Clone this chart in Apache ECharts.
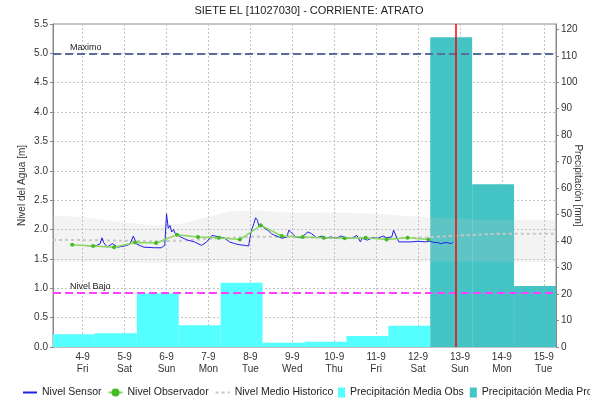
<!DOCTYPE html>
<html>
<head>
<meta charset="utf-8">
<script src="https://cdn.jsdelivr.net/npm/echarts@6/dist/echarts.min.js"></script>
<style>
  html, body { margin: 0; padding: 0; background: #fff; }
  #main { width: 590px; height: 401px; }
</style>
</head>
<body>
<div id="main"></div>
<script>
// horas contadas desde 2020-09-04 00:00
var sensorHours = [1, 6, 8, 10, 11, 12, 14, 17, 20, 24, 27, 29, 31, 35, 41, 45, 47, 48, 49, 50, 51, 52, 53, 54, 56, 60, 64, 68, 71, 74, 75, 78, 81, 84, 87, 90, 93, 95, 96, 97, 98, 99, 100, 101, 102, 104, 106, 108, 110, 112, 114, 117, 118, 120, 122, 125, 129, 131, 134, 137, 139, 142, 145, 148, 151, 154, 157, 159, 160, 163, 166, 169, 172, 174, 177, 178, 180, 181, 184, 188, 192, 196, 199, 201, 203, 205, 208, 211, 212];
var sensorLevel = [1.73, 1.72, 1.73, 1.76, 1.86, 1.78, 1.70, 1.76, 1.70, 1.72, 1.75, 1.89, 1.75, 1.70, 1.69, 1.69, 1.73, 2.27, 2.02, 2.07, 1.96, 2.00, 1.93, 1.91, 1.875, 1.82, 1.79, 1.73, 1.79, 1.90, 1.93, 1.875, 1.86, 1.79, 1.76, 1.74, 1.73, 1.72, 1.90, 2.02, 2.10, 2.20, 2.16, 2.05, 2.10, 2.02, 1.99, 1.93, 1.90, 1.88, 1.85, 1.875, 1.99, 1.93, 1.875, 1.86, 1.96, 1.93, 1.86, 1.89, 1.85, 1.875, 1.85, 1.89, 1.85, 1.85, 1.90, 1.79, 1.85, 1.82, 1.86, 1.85, 1.89, 1.86, 1.875, 1.99, 1.85, 1.79, 1.79, 1.79, 1.80, 1.79, 1.80, 1.78, 1.78, 1.76, 1.78, 1.76, 1.79];

var obsHours = [-6, 6, 18, 30, 42, 54, 66, 78, 90, 102, 114, 126, 138, 150, 162, 174, 186, 198];
var obsLevel = [1.74, 1.72, 1.70, 1.78, 1.77, 1.91, 1.875, 1.86, 1.83, 2.07, 1.89, 1.875, 1.86, 1.85, 1.86, 1.83, 1.86, 1.83];

var histHours = [-17, 0, 24, 40, 56, 72, 84, 100, 120, 144, 168, 192, 216, 240, 271];
var histHigh = [2.24, 2.21, 2.12, 2.07, 2.10, 2.22, 2.31, 2.33, 2.28, 2.29, 2.27, 2.22, 2.18, 2.16, 2.17];
var histLow = [1.45, 1.45, 1.44, 1.43, 1.43, 1.43, 1.44, 1.45, 1.45, 1.44, 1.44, 1.45, 1.46, 1.45, 1.44];
var histMean = [1.82, 1.82, 1.81, 1.80, 1.81, 1.84, 1.86, 1.88, 1.87, 1.86, 1.86, 1.86, 1.90, 1.93, 1.93];

// precipitacion diaria 7:00 a 7:00
var obsPrecipStart = -17;
var obsPrecip = [4.8, 5.2, 20.3, 8.2, 24.3, 1.6, 2.0, 4.2, 8.0];
var proPrecipStart = 199;
var proPrecip = [117, 61.5, 23.0];

var weekDays = ['Sun', 'Mon', 'Tue', 'Wed', 'Thu', 'Fri', 'Sat'];
var nivelMaximo = 5.0;
var nivelBajo = 0.93;
var horaActual = 213.5;
var xMinHour = -17;
var xMaxHour = 271;

var base = new Date(2020, 8, 4, 0, 0, 0).getTime();
function t(h) {
    return base + h * 3600 * 1000;
}

function pairs(hours, vals) {
    var out = [];
    for (var i = 0; i < hours.length; i++) {
        out.push([t(hours[i]), vals[i]]);
    }
    return out;
}

function precipData(start, vals) {
    var out = [];
    for (var i = 0; i < vals.length; i++) {
        out.push([t(start + 24 * i), t(start + 24 * (i + 1)), vals[i]]);
    }
    return out;
}

function precipRender(color) {
    return function (params, api) {
        var p0 = api.coord([api.value(0), api.value(2)]);
        var p1 = api.coord([api.value(1), 0]);
        return {
            type: 'rect',
            shape: {x: p0[0], y: p0[1], width: p1[0] - p0[0], height: p1[1] - p0[1]},
            style: {fill: color}
        };
    };
}

var bandRange = [];
for (var i = 0; i < histHigh.length; i++) {
    bandRange.push(+(histHigh[i] - histLow[i]).toFixed(3));
}

var myChart = echarts.init(document.getElementById('main'));
var fontFam = 'Liberation Sans, Arial, sans-serif';

var option = {
    animation: false,
    textStyle: {fontFamily: fontFam},
    title: {
        text: 'SIETE EL [11027030] - CORRIENTE: ATRATO',
        left: 304,
        textAlign: 'center',
        top: 0,
        textStyle: {fontSize: 11, fontWeight: 'normal', color: '#222', fontFamily: fontFam}
    },
    legend: [
        {
            left: 22,
            top: 387,
            padding: 0,
            width: 400,
            itemWidth: 14,
            itemHeight: 10,
            itemGap: 6,
            textStyle: {fontSize: 10.5, color: '#222'},
            data: [
                {name: 'Nivel Sensor', itemStyle: {opacity: 0}},
                {name: 'Nivel Observador'},
                {name: 'Nivel Medio Historico', itemStyle: {opacity: 0}}
            ]
        },
        {
            left: 338,
            top: 387,
            padding: 0,
            width: 500,
            itemWidth: 7,
            itemHeight: 10,
            itemGap: 6,
            textStyle: {fontSize: 10.5, color: '#222'},
            data: [
                {name: 'Precipitación Media Obs', icon: 'rect', itemStyle: {color: '#55ffff'}},
                {name: 'Precipitación Media Pro', icon: 'rect', itemStyle: {color: '#44c4c4'}}
            ]
        }
    ],
    grid: {
        left: 53,
        right: 34,
        top: 24,
        bottom: 54,
        outerBoundsMode: 'none',
        containLabel: false,
        show: true,
        borderColor: '#888',
        borderWidth: 1,
        backgroundColor: '#fff'
    },
    xAxis: {
        type: 'time',
        min: t(xMinHour),
        max: t(xMaxHour),
        minInterval: 24 * 3600 * 1000,
        maxInterval: 24 * 3600 * 1000,
        axisLine: {show: false},
        axisTick: {show: false},
        splitLine: {show: true, lineStyle: {color: '#c4c4c4', type: [2, 2]}},
        axisLabel: {
            fontSize: 10,
            color: '#333',
            lineHeight: 12,
            margin: 4,
            hideOverlap: false,
            formatter: function (val) {
                var d = new Date(val);
                return d.getDate() + '-' + (d.getMonth() + 1) + '\n' + weekDays[d.getDay()];
            }
        }
    },
    yAxis: [
        {
            type: 'value',
            name: 'Nivel del Agua [m]',
            nameLocation: 'middle',
            nameMoveOverlap: false,
            nameGap: 26,
            nameTextStyle: {fontSize: 10, color: '#333'},
            min: 0,
            max: 5.5,
            interval: 0.5,
            axisLine: {show: true, lineStyle: {color: '#888'}},
            axisTick: {show: true, length: 3, lineStyle: {color: '#888'}},
            splitLine: {show: true, lineStyle: {color: '#c4c4c4', type: [2, 2]}},
            axisLabel: {
                fontSize: 10,
                color: '#333',
                margin: 5,
                formatter: function (v) { return v.toFixed(1); }
            }
        },
        {
            type: 'value',
            name: 'Precipitación [mm]',
            nameLocation: 'middle',
            nameMoveOverlap: false,
            nameRotate: -90,
            nameGap: 17,
            nameTextStyle: {fontSize: 10, color: '#333'},
            min: 0,
            max: 122,
            interval: 10,
            axisLine: {show: true, lineStyle: {color: '#888'}},
            axisTick: {show: true, length: 3, lineStyle: {color: '#888'}},
            splitLine: {show: false},
            axisLabel: {fontSize: 10, color: '#333', margin: 5, showMaxLabel: false}
        }
    ],
    series: [
        {
            name: 'Precipitación Media Obs',
            type: 'custom',
            yAxisIndex: 1,
            z: 1,
            clip: true,
            itemStyle: {color: '#55ffff'},
            encode: {x: [0, 1], y: 2},
            renderItem: precipRender('#55ffff'),
            data: precipData(obsPrecipStart, obsPrecip)
        },
        {
            name: 'Precipitación Media Pro',
            type: 'custom',
            yAxisIndex: 1,
            z: 1,
            clip: true,
            itemStyle: {color: '#44c4c4'},
            encode: {x: [0, 1], y: 2},
            renderItem: precipRender('#44c4c4'),
            data: precipData(proPrecipStart, proPrecip)
        },
        {
            name: 'bandLow',
            type: 'line',
            stack: 'hist',
            z: 2,
            symbol: 'none',
            lineStyle: {opacity: 0},
            data: pairs(histHours, histLow)
        },
        {
            name: 'bandRange',
            type: 'line',
            stack: 'hist',
            z: 2,
            symbol: 'none',
            lineStyle: {opacity: 0},
            areaStyle: {color: 'rgba(200,200,200,0.3)'},
            data: pairs(histHours, bandRange)
        },
        {
            name: 'Nivel Medio Historico',
            type: 'line',
            z: 3,
            symbol: 'none',
            itemStyle: {color: '#c8c8c8'},
            lineStyle: {color: '#c8c8c8', width: 2, type: [3, 3]},
            data: pairs(histHours, histMean)
        },
        {
            name: 'Nivel Sensor',
            type: 'line',
            z: 4,
            symbol: 'none',
            itemStyle: {color: '#1f1fe8'},
            lineStyle: {color: '#1f1fe8', width: 1},
            data: pairs(sensorHours, sensorLevel)
        },
        {
            name: 'Nivel Observador',
            type: 'line',
            z: 5,
            symbol: 'circle',
            symbolSize: 4,
            itemStyle: {color: '#44bb22'},
            lineStyle: {color: '#88d860', width: 1.5},
            data: pairs(obsHours, obsLevel)
        },
        {
            name: 'limites',
            type: 'line',
            z: 6,
            symbol: 'none',
            lineStyle: {opacity: 0},
            data: pairs(histHours, histMean),
            markLine: {
                silent: true,
                symbol: 'none',
                animation: false,
                data: [
                    {
                        yAxis: nivelMaximo,
                        lineStyle: {color: '#5a6e9c', width: 2, type: [8, 4], opacity: 1},
                        label: {show: true, position: 'insideStartTop', formatter: 'Maximo', fontSize: 9, color: '#222', padding: [0, 0, 0, 16], distance: 1}
                    },
                    {
                        yAxis: nivelBajo,
                        lineStyle: {color: '#ff40ff', width: 2, type: [8, 4], opacity: 1},
                        label: {show: true, position: 'insideStartTop', formatter: 'Nivel Bajo', fontSize: 9, color: '#222', padding: [0, 0, 0, 16], distance: 1}
                    }
                ]
            }
        },
        {
            name: 'ahora',
            type: 'line',
            z: 7,
            symbol: 'none',
            itemStyle: {color: '#ff0000'},
            lineStyle: {opacity: 0},
            data: pairs(histHours, histMean),
            markLine: {
                silent: true,
                symbol: 'none',
                animation: false,
                label: {show: false},
                lineStyle: {color: '#ff0000', width: 1.5, type: 'solid', opacity: 1},
                data: [{xAxis: t(horaActual)}]
            }
        }
    ]
};
myChart.setOption(option);
</script>
</body>
</html>
